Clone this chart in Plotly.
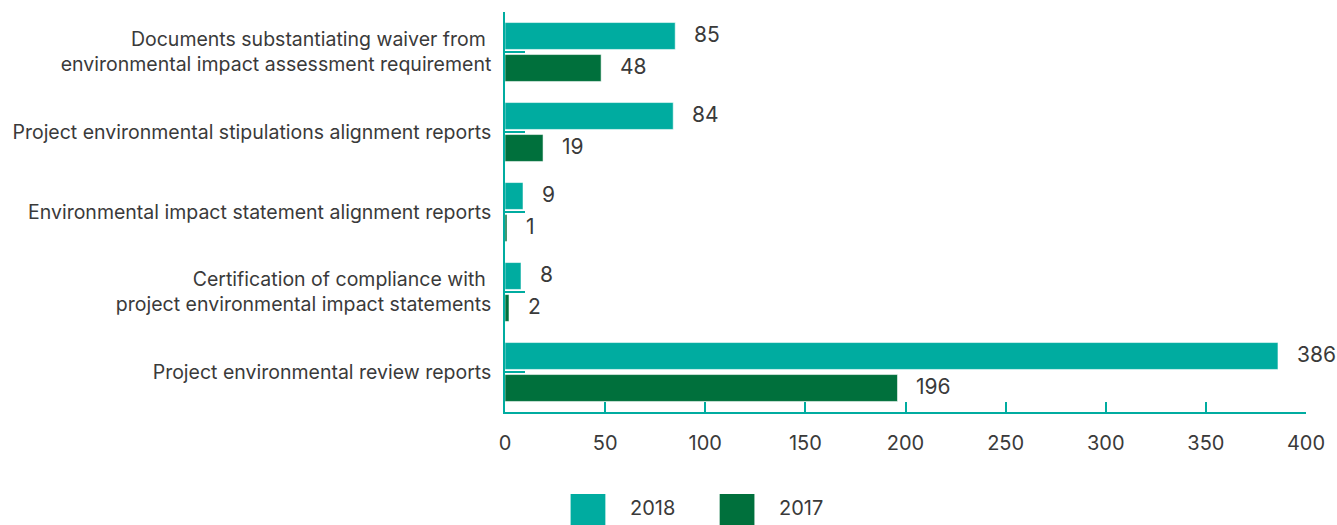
import plotly.graph_objects as go

# Report categories, top to bottom
categories = [
    "Documents substantiating waiver from <br>environmental impact assessment requirement",
    "Project environmental stipulations alignment reports",
    "Environmental impact statement alignment reports",
    "Certification of compliance with <br>project environmental impact statements",
    "Project environmental review reports",
]
values_2018 = [85, 84, 9, 8, 386]
values_2017 = [48, 19, 1, 2, 196]
series_names = ["2018", "2017"]
x_ticks = [0, 50, 100, 150, 200, 250, 300, 350, 400]

TEAL = "#00ACA0"
GREEN = "#00703C"
TEXT = "#3a3a3a"
FONT = "Inter"

fig = go.Figure()
for name, vals, color in [(series_names[0], values_2018, TEAL),
                          (series_names[1], values_2017, GREEN)]:
    fig.add_trace(go.Bar(
        y=categories, x=vals, name=name, orientation="h",
        marker=dict(color=color, line=dict(color="rgba(255,255,255,0.55)", width=1)),
        showlegend=False,
    ))

# value labels to the right of each bar
for vals, shift in [(values_2018, 16), (values_2017, -16)]:
    for cat, v in zip(categories, vals):
        fig.add_annotation(
            x=v, y=cat, text=str(v), showarrow=False,
            xanchor="left", yanchor="middle", xshift=17, yshift=shift + 2,
            font=dict(family=FONT, size=21, color=TEXT),
        )

# legend drawn as swatches + labels below the axis
legend_items = [(series_names[0], TEAL, 0.0819), (series_names[1], GREEN, 0.268)]
for name, color, x0 in legend_items:
    fig.add_shape(type="rect", xref="paper", yref="paper",
                  x0=x0, x1=x0 + 0.0434, y0=-0.2925, y1=-0.205,
                  fillcolor=color, line=dict(width=0), layer="above")
    fig.add_annotation(xref="paper", yref="paper", x=x0 + 0.072, y=-0.24,
                       text=name, showarrow=False, xanchor="left", yanchor="middle",
                       font=dict(family=FONT, size=20, color=TEXT))

fig.update_layout(
    width=1337, height=525,
    margin=dict(l=505, r=25, t=12, b=113),
    paper_bgcolor="white", plot_bgcolor="white",
    barmode="group", bargap=0.2, bargroupgap=0.16,
    font=dict(family=FONT, size=19.5, color=TEXT),
    xaxis=dict(
        range=[0, 400], tickvals=x_ticks, showgrid=False, zeroline=False,
        showline=True, linecolor=TEAL, linewidth=1.5,
        ticks="inside", ticklen=10, tickcolor=TEAL, tickwidth=1.5,
        ticklabelstandoff=12, tickfont=dict(family=FONT, size=20, color=TEXT),
    ),
    yaxis=dict(
        autorange="reversed", showgrid=False, zeroline=False,
        showline=True, linecolor=TEAL, linewidth=1.5,
        ticks="inside", ticklen=20, tickcolor=TEAL, tickwidth=1.5,
        ticklabelstandoff=8, tickfont=dict(family=FONT, size=19.5, color=TEXT),
    ),
)

fig.write_html("out.html")
